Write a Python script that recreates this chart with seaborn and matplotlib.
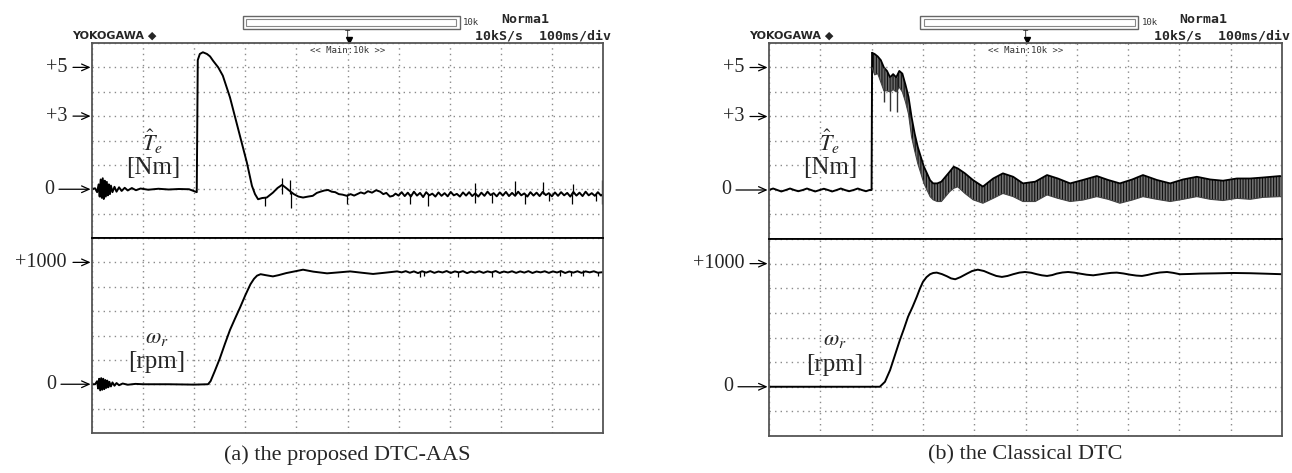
import matplotlib
matplotlib.use('Agg')
import matplotlib.pyplot as plt
from matplotlib.patches import Rectangle
import seaborn as sns

# Oszilloskop-Aufnahmen: Drehmoment (oben) und Drehzahl (unten), 100 ms/div

# (a) DTC-AAS : Drehmoment [Nm]
torque_a_t = [0, 6, 10, 13, 15, 17, 19, 21, 23, 25,
              27, 29, 31, 33, 35, 37, 40, 44, 48, 53,
              58, 64, 70, 78, 86, 95, 110, 130, 150, 170,
              190, 205, 207, 211, 217, 225, 231, 237, 247, 256,
              270, 286, 303, 313, 319, 325, 333, 342, 354, 363,
              372, 380, 387, 395, 404, 413, 423, 432, 440, 447,
              455, 462, 469, 476, 483, 490, 499, 506, 513, 519,
              526, 533, 540, 548, 556, 564, 570, 576, 583, 589,
              594, 600, 606, 612, 618, 624, 630, 636, 642, 648,
              654, 660, 666, 672, 678, 684, 690, 696, 702, 708,
              714, 720, 726, 732, 738, 744, 750, 756, 762, 768,
              774, 780, 786, 792, 798, 804, 810, 816, 822, 828,
              834, 840, 846, 852, 858, 864, 870, 876, 882, 888,
              894, 900, 906, 912, 918, 924, 930, 936, 942, 948,
              954, 960, 966, 972, 978, 984, 990, 996, 1000]
torque_a = [0.0, 0.04, -0.12, 0.2, -0.3, 0.4, -0.35, 0.45, -0.4, 0.35,
            -0.3, 0.3, -0.25, 0.2, -0.2, 0.15, -0.12, 0.1, -0.1, 0.08,
            -0.07, 0.06, -0.05, 0.05, -0.04, 0.03, -0.02, 0.02, -0.01, 0.01,
            0.0, -0.12, 5.3, 5.55, 5.62, 5.55, 5.45, 5.27, 5.0, 4.66,
            3.77, 2.47, 1.1, 0.14, -0.2, -0.41, -0.36, -0.34, -0.14, 0.05,
            0.18, 0.05, -0.07, -0.2, -0.3, -0.34, -0.3, -0.27, -0.15, -0.1,
            -0.05, -0.03, -0.1, -0.12, -0.2, -0.22, -0.27, -0.2, -0.26, -0.2,
            -0.13, -0.18, -0.08, -0.14, -0.04, -0.1, -0.2, -0.15, -0.3, -0.27,
            -0.18, -0.26, -0.12, -0.28, -0.14, -0.3, -0.1, -0.26, -0.15, -0.32,
            -0.12, -0.25, -0.18, -0.3, -0.13, -0.27, -0.16, -0.29, -0.11, -0.25,
            -0.19, -0.3, -0.13, -0.26, -0.12, -0.28, -0.17, -0.3, -0.14, -0.27,
            -0.1, -0.24, -0.16, -0.29, -0.13, -0.26, -0.11, -0.28, -0.15, -0.27,
            -0.1, -0.25, -0.17, -0.3, -0.12, -0.26, -0.14, -0.28, -0.11, -0.24,
            -0.16, -0.29, -0.13, -0.27, -0.12, -0.25, -0.15, -0.3, -0.11, -0.26,
            -0.14, -0.28, -0.1, -0.25, -0.16, -0.27, -0.12, -0.26, -0.2]
# Spitzen im Drehmomentsignal (a)
spike_a_t = [338, 372, 387, 389, 499, 622, 657, 750, 750, 783, 828, 847, 882, 895, 939, 941, 987, 999]
spike_a_lo = [-0.68, -0.2, -0.2, -0.75, -0.6, -0.6, -0.68, -0.55, -0.2, -0.55, -0.2, -0.6, -0.2, -0.5, -0.6, -0.2, -0.5, -0.6]
spike_a_hi = [-0.3, 0.48, 0.4, -0.1, -0.2, -0.2, -0.2, -0.2, 0.27, -0.2, 0.34, -0.2, 0.3, -0.2, -0.2, 0.2, -0.2, 0.38]

# (a) DTC-AAS : Drehzahl [rpm]
speed_a_t = [0, 6, 10, 12, 14, 16, 18, 20, 22, 24,
             26, 28, 30, 32, 34, 37, 40, 44, 48, 53,
             60, 70, 85, 100, 150, 200, 227, 232, 240, 250,
             260, 270, 280, 290, 300, 310, 317, 323, 330, 340,
             354, 365, 380, 393, 413, 433, 460, 483, 505, 528,
             550, 573, 597, 606, 614, 622, 630, 638, 646, 654,
             662, 670, 678, 686, 694, 702, 710, 718, 726, 734,
             742, 750, 758, 766, 774, 782, 790, 798, 806, 814,
             822, 830, 838, 846, 854, 862, 870, 878, 886, 894,
             902, 910, 918, 926, 934, 942, 950, 958, 966, 974,
             982, 990, 1000]
speed_a = [0, 0, 25, -35, 45, -50, 50, -45, 45, -40,
           35, -30, 30, -25, 20, -18, 15, -12, 10, -8,
           6, -4, 3, 0, 0, -3, 0, 25, 105, 210,
           330, 445, 540, 632, 730, 820, 865, 891, 903, 895,
           885, 895, 912, 923, 940, 924, 910, 918, 926, 915,
           905, 915, 926, 918, 928, 915, 926, 912, 927, 916,
           928, 914, 925, 917, 929, 913, 926, 918, 928, 912,
           925, 916, 927, 914, 926, 918, 929, 913, 925, 917,
           927, 914, 926, 916, 928, 913, 925, 918, 927, 914,
           926, 917, 928, 913, 925, 916, 927, 914, 926, 918,
           927, 915, 920]
spike_sa_t = [642, 649, 716, 783, 916, 937, 960, 990]
spike_sa_lo = [880, 885, 878, 880, 885, 888, 890, 886]
spike_sa_hi = [920, 920, 920, 920, 935, 920, 938, 920]

# (b) klassisches DTC : Drehmoment vor dem Sprung
torque_b_t = [0, 8, 16, 24, 33, 41, 49, 57, 66, 74,
              82, 90, 99, 107, 115, 123, 132, 140, 148, 156,
              165, 173, 181, 189, 196, 200, 201]
torque_b = [0, 0.06, 0, -0.06, 0, 0.06, 0, -0.05, 0, 0.06,
            0, -0.06, 0, 0.05, 0, -0.06, 0, 0.06, 0, -0.05,
            0, 0.06, 0, -0.05, 0, 0, 5.6]
# (b) Welligkeitsband nach dem Sprung (obere / untere Huellkurve)
band_b_t = [201, 206, 212, 218, 224, 230, 236, 242, 248, 254,
            260, 266, 272, 278, 284, 290, 296, 302, 308, 314,
            320, 328, 336, 344, 352, 360, 368, 382, 398, 417,
            437, 456, 476, 495, 519, 542, 563, 587, 612, 639,
            661, 684, 708, 729, 756, 782, 807, 834, 860, 885,
            912, 938, 963, 996, 1000]
band_b_hi = [5.6, 5.55, 5.45, 5.3, 5.0, 4.86, 4.6, 4.73, 4.6, 4.86,
             4.75, 4.3, 3.8, 2.97, 2.3, 1.76, 1.35, 0.95, 0.68, 0.4,
             0.27, 0.27, 0.34, 0.54, 0.74, 0.95, 0.88, 0.68, 0.4, 0.14,
             0.47, 0.68, 0.54, 0.27, 0.34, 0.61, 0.47, 0.27, 0.41, 0.57,
             0.41, 0.27, 0.43, 0.61, 0.41, 0.27, 0.43, 0.54, 0.43, 0.38,
             0.47, 0.47, 0.51, 0.57, 0.55]
band_b_lo = [5.0, 4.7, 4.75, 4.4, 4.05, 4.05, 4.0, 4.1, 4.0, 4.2,
             4.0, 3.6, 3.1, 2.16, 1.6, 1.08, 0.68, 0.27, 0.0, -0.27,
             -0.4, -0.47, -0.47, -0.27, -0.07, 0.07, 0.13, -0.14, -0.4, -0.54,
             -0.34, -0.14, -0.27, -0.47, -0.47, -0.2, -0.34, -0.47, -0.41, -0.27,
             -0.38, -0.54, -0.41, -0.27, -0.38, -0.47, -0.38, -0.27, -0.38, -0.43,
             -0.34, -0.38, -0.3, -0.27, -0.28]
spike_b_t = [225, 236, 249]
spike_b_lo = [3.6, 3.24, 3.2]
spike_b_hi = [5.0, 4.6, 4.6]

# (b) klassisches DTC : Drehzahl [rpm]
speed_b_t = [0, 50, 100, 150, 200, 216, 226, 236, 245, 255,
             263, 271, 280, 288, 294, 300, 307, 314, 320, 327,
             337, 347, 355, 363, 373, 386, 396, 407, 419, 431,
             443, 454, 465, 476, 488, 499, 511, 522, 532, 542,
             552, 561, 572, 583, 595, 606, 619, 632, 644, 655,
             667, 678, 691, 704, 716, 727, 738, 749, 762, 776,
             788, 801, 820, 840, 870, 905, 938, 970, 1000]
speed_b = [0, 0, 0, 0, 0, 0, 40, 135, 250, 378,
           470, 568, 650, 730, 795, 851, 890, 914, 924, 927,
           915, 897, 880, 873, 890, 919, 940, 951, 940, 919,
           900, 892, 900, 914, 927, 932, 926, 914, 905, 900,
           907, 919, 928, 932, 927, 919, 910, 905, 912, 919,
           925, 927, 920, 910, 903, 900, 908, 919, 928, 932,
           925, 914, 916, 919, 921, 924, 922, 918, 914]

level_torque = [(5, '+5'), (3, '+3'), (0, '0')]
level_speed = [(1000, '+1000'), (0, '0')]
captions = ['(a) the proposed DTC-AAS', '(b) the Classical DTC']

sns.set_theme(style='white')
plt.rcParams['font.family'] = ['Liberation Serif', 'DejaVu Serif']
plt.rcParams['mathtext.fontset'] = 'stix'
plt.rcParams['hatch.linewidth'] = 0.8

W, H = 1292, 473
fig = plt.figure(figsize=(W / 100, H / 100), dpi=100)
fig.patch.set_facecolor('white')

SERIF = ['Liberation Serif', 'DejaVu Serif']
MONO = ['DejaVu Sans Mono']


def make_axes(left, top, mid, bottom, right):
    up = fig.add_axes([left / W, 1 - mid / H, (right - left) / W, (mid - top) / H])
    lo = fig.add_axes([left / W, 1 - bottom / H, (right - left) / W, (bottom - mid) / H])
    for ax, (y0, y1, step) in zip((up, lo), ((-2, 6, 1), (-400, 1200, 200))):
        ax.set_xlim(0, 1000)
        ax.set_ylim(y0, y1)
        ax.set_xticks(range(0, 1001, 100))
        ax.set_yticks(range(y0, y1 + 1, step))
        ax.set_xticklabels([])
        ax.set_yticklabels([])
        ax.tick_params(length=0)
        ax.grid(True, linestyle=(0, (1, 3)), color='#8a8a8a', linewidth=1.0)
        ax.set_facecolor('white')
        for s in ax.spines.values():
            s.set_color('#555555')
            s.set_linewidth(1.3)
            s.set_visible(True)
    up.spines['bottom'].set_color('black')
    lo.spines['top'].set_color('black')
    return up, lo


def level_mark(ax, y, label, gap, text_gap):
    ax.annotate('', xy=(0, y), xycoords=('axes fraction', 'data'),
                xytext=(-gap, 0), textcoords='offset pixels',
                arrowprops=dict(arrowstyle='->,head_length=0.45,head_width=0.2',
                                lw=0.9, color='black', shrinkA=0, shrinkB=1),
                annotation_clip=False)
    ax.annotate(label, xy=(0, y), xycoords=('axes fraction', 'data'),
                xytext=(-text_gap, 0), textcoords='offset pixels',
                ha='right', va='center', fontsize=14.5, family=SERIF,
                annotation_clip=False)


def header(ax):
    tr = ax.transAxes
    ax.add_patch(Rectangle((0.295, 1.072), 0.425, 0.066, transform=tr, clip_on=False,
                           fill=False, edgecolor='#666666', lw=1.0))
    ax.add_patch(Rectangle((0.302, 1.088), 0.411, 0.034, transform=tr, clip_on=False,
                           fill=False, edgecolor='#888888', lw=0.8))
    ax.text(0.726, 1.105, '10k', transform=tr, fontsize=6.5, family=MONO,
            ha='left', va='center', color='#333333')
    ax.text(-0.038, 1.036, 'YOKOGAWA \u25c6', transform=tr, fontsize=8,
            family=['DejaVu Sans'], weight='bold', ha='left', va='center')
    ax.text(0.8, 1.118, 'Norma1', transform=tr, fontsize=9.5, family=MONO,
            weight='bold', ha='left', va='center')
    ax.text(1.015, 1.036, '10kS/s  100ms/div', transform=tr, fontsize=9.5,
            family=MONO, weight='bold', ha='right', va='center')
    ax.text(0.5, 1.045, 'T', transform=tr, fontsize=6.5, family=MONO,
            ha='center', va='center')
    ax.plot([0.503], [1.013], marker='v', markersize=4, color='black',
            transform=tr, clip_on=False)
    ax.text(0.5, 0.962, '<< Main:10k >>', transform=tr, fontsize=6.5,
            family=MONO, ha='center', va='center', color='#333333')


def labels(up, lo, x_t, x_w):
    up.text(x_t, 1.95, r'$\hat{T}_e$', fontsize=16, ha='center', va='center')
    up.text(x_t, 0.88, '[Nm]', fontsize=18, family=SERIF, ha='center', va='center')
    lo.text(x_w, 375, r'$\omega_r$', fontsize=16, ha='center', va='center')
    lo.text(x_w, 180, '[rpm]', fontsize=18, family=SERIF, ha='center', va='center')


def trace(ax, t, v, lw=1.4):
    sns.lineplot(x=t, y=v, ax=ax, color='black', linewidth=lw,
                 estimator=None, sort=False, legend=False)


# ---- (a) ----
ua, la = make_axes(92, 43, 238, 433, 603)
trace(ua, torque_a_t, torque_a)
ua.vlines(spike_a_t, spike_a_lo, spike_a_hi, color='black', lw=0.9)
trace(la, speed_a_t, speed_a)
la.vlines(spike_sa_t, spike_sa_lo, spike_sa_hi, color='black', lw=0.9)

# ---- (b) ----
ub, lb = make_axes(769, 43, 239, 436, 1282)
trace(ub, torque_b_t, torque_b)
ub.fill_between(band_b_t, band_b_lo, band_b_hi, facecolor='#6f6f6f',
                edgecolor='#111111', hatch='||||||', linewidth=0)
sns.lineplot(x=band_b_t, y=band_b_hi, ax=ub, color='black', linewidth=1.3,
             estimator=None, sort=False, legend=False)
sns.lineplot(x=band_b_t, y=band_b_lo, ax=ub, color='#444444', linewidth=0.8,
             estimator=None, sort=False, legend=False)
ub.vlines(spike_b_t, spike_b_lo, spike_b_hi, color='#333333', lw=1.0)
trace(lb, speed_b_t, speed_b)

for up, lo in ((ua, la), (ub, lb)):
    for y, lab in level_torque:
        if y == 0:
            level_mark(up, y, lab, 33, 38)
        else:
            level_mark(up, y, lab, 19, 25)
    for y, lab in level_speed:
        if y == 0:
            level_mark(lo, y, lab, 31, 36)
        else:
            level_mark(lo, y, lab, 19, 25)
    header(up)

labels(ua, la, 119, 127)
labels(ub, lb, 119, 128)

fig.text(347 / W, 1 - 455 / H, captions[0], fontsize=16, family=SERIF,
         ha='center', va='center')
fig.text(1025 / W, 1 - 455 / H, captions[1], fontsize=16, family=SERIF,
         ha='center', va='center')

fig.savefig('out.png', dpi=100, facecolor='white')
plt.close(fig)
